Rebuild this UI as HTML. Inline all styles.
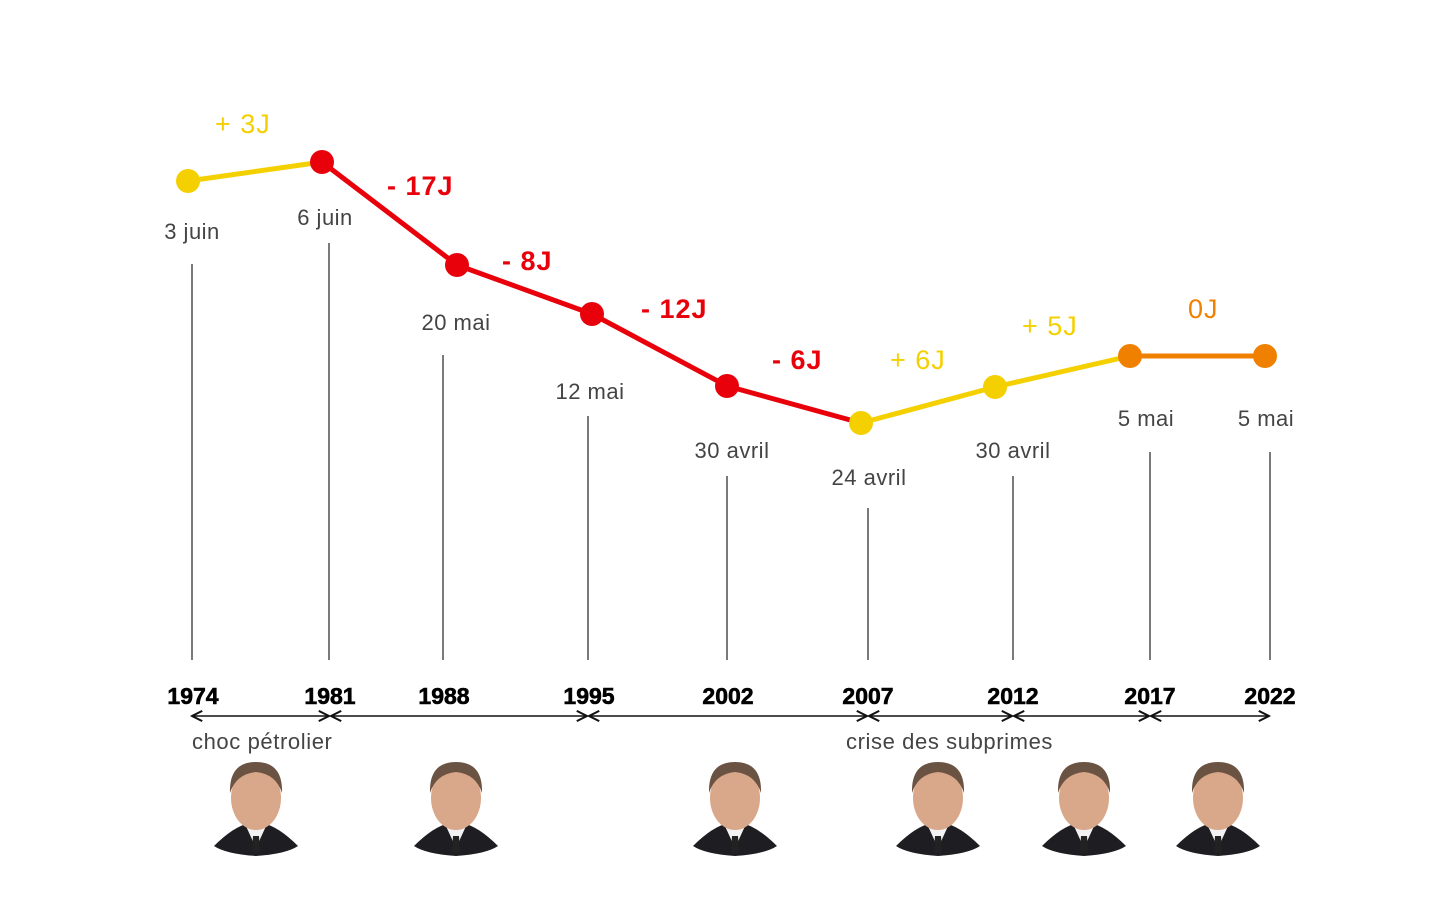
<!DOCTYPE html>
<html><head><meta charset="utf-8"><style>
html,body{margin:0;padding:0;background:#fff;}
svg{display:block;font-family:"Liberation Sans",sans-serif;}
</style></head><body>
<svg width="1440" height="900" viewBox="0 0 1440 900">
<defs>
<marker id="ar" viewBox="0 0 10 10" refX="9" refY="5" markerWidth="8" markerHeight="8" orient="auto-start-reverse"><path d="M1,1 L9,5 L1,9" fill="none" stroke="#111" stroke-width="1.6"/></marker>
<g id="face">
<path d="M-42,50 Q-22,30 -6,27 L6,27 Q22,30 42,50 Q30,58 0,60 Q-30,58 -42,50Z" fill="#1e1e22"/>
<path d="M-11,28 L0,52 L11,28Z" fill="#f2f2f2"/>
<path d="M-3,40 L3,40 L4,57 L-4,57Z" fill="#222"/>
<ellipse cx="0" cy="2" rx="25" ry="32" fill="#d9a88a"/>
<path d="M-26,-3 Q-27,-34 0,-34 Q27,-34 26,-3 Q20,-22 0,-24 Q-20,-22 -26,-3Z" fill="#6b5344"/>
</g>
</defs>
<g stroke="#333" stroke-width="1.3">
<line x1="192" y1="264" x2="192" y2="660"/>
<line x1="329" y1="243" x2="329" y2="660"/>
<line x1="443" y1="355" x2="443" y2="660"/>
<line x1="588" y1="416" x2="588" y2="660"/>
<line x1="727" y1="476" x2="727" y2="660"/>
<line x1="868" y1="508" x2="868" y2="660"/>
<line x1="1013" y1="476" x2="1013" y2="660"/>
<line x1="1150" y1="452" x2="1150" y2="660"/>
<line x1="1270" y1="452" x2="1270" y2="660"/>
</g>
<g fill="none" stroke-width="5" stroke-linejoin="round" stroke-linecap="round">
<polyline points="188,181 322,162" stroke="#f5d000"/>
<polyline points="322,162 457,265 592,314 727,386 861,423" stroke="#e8000b"/>
<polyline points="861,423 995,387 1130,356" stroke="#f5d000"/>
<polyline points="1130,356 1265,356" stroke="#f08000"/>
</g>
<g>
<circle cx="188" cy="181" r="12" fill="#f5d000"/>
<circle cx="322" cy="162" r="12" fill="#e8000b"/>
<circle cx="457" cy="265" r="12" fill="#e8000b"/>
<circle cx="592" cy="314" r="12" fill="#e8000b"/>
<circle cx="727" cy="386" r="12" fill="#e8000b"/>
<circle cx="861" cy="423" r="12" fill="#f5d000"/>
<circle cx="995" cy="387" r="12" fill="#f5d000"/>
<circle cx="1130" cy="356" r="12" fill="#f08000"/>
<circle cx="1265" cy="356" r="12" fill="#f08000"/>
</g>
<g font-size="27">
<text x="215" y="133" fill="#f5d000" letter-spacing="1">+ 3J</text>
<text x="387" y="195" fill="#e8000b" font-weight="bold" letter-spacing="1">- 17J</text>
<text x="502" y="270" fill="#e8000b" font-weight="bold" letter-spacing="1">- 8J</text>
<text x="641" y="318" fill="#e8000b" font-weight="bold" letter-spacing="1">- 12J</text>
<text x="772" y="369" fill="#e8000b" font-weight="bold" letter-spacing="1">- 6J</text>
<text x="890" y="369" fill="#f5d000" letter-spacing="1">+ 6J</text>
<text x="1022" y="335" fill="#f5d000" letter-spacing="1">+ 5J</text>
<text x="1188" y="318" fill="#f08000" letter-spacing="1">0J</text>
</g>
<g font-size="22" fill="#444" text-anchor="middle" letter-spacing="0.5">
<text x="192" y="239">3 juin</text>
<text x="325" y="225">6 juin</text>
<text x="456" y="330">20 mai</text>
<text x="590" y="399">12 mai</text>
<text x="732" y="458">30 avril</text>
<text x="869" y="485">24 avril</text>
<text x="1013" y="458">30 avril</text>
<text x="1146" y="426">5 mai</text>
<text x="1266" y="426">5 mai</text>
</g>
<g font-size="23" font-weight="bold" fill="#000" text-anchor="middle" stroke="#000" stroke-width="0.6">
<text x="193" y="704">1974</text>
<text x="330" y="704">1981</text>
<text x="444" y="704">1988</text>
<text x="589" y="704">1995</text>
<text x="728" y="704">2002</text>
<text x="868" y="704">2007</text>
<text x="1013" y="704">2012</text>
<text x="1150" y="704">2017</text>
<text x="1270" y="704">2022</text>
</g>
<g stroke="#111" stroke-width="1.6" marker-start="url(#ar)" marker-end="url(#ar)">
<line x1="192" y1="716" x2="329" y2="716"/>
<line x1="331" y1="716" x2="587" y2="716"/>
<line x1="589" y1="716" x2="867" y2="716"/>
<line x1="869" y1="716" x2="1012" y2="716"/>
<line x1="1014" y1="716" x2="1149" y2="716"/>
<line x1="1151" y1="716" x2="1269" y2="716"/>
</g>
<g font-size="22" fill="#444" letter-spacing="0.6">
<text x="192" y="749">choc pétrolier</text>
<text x="846" y="749">crise des subprimes</text>
</g>
<use href="#face" x="256" y="796"/>
<use href="#face" x="456" y="796"/>
<use href="#face" x="735" y="796"/>
<use href="#face" x="938" y="796"/>
<use href="#face" x="1084" y="796"/>
<use href="#face" x="1218" y="796"/>
</svg>
</body></html>
